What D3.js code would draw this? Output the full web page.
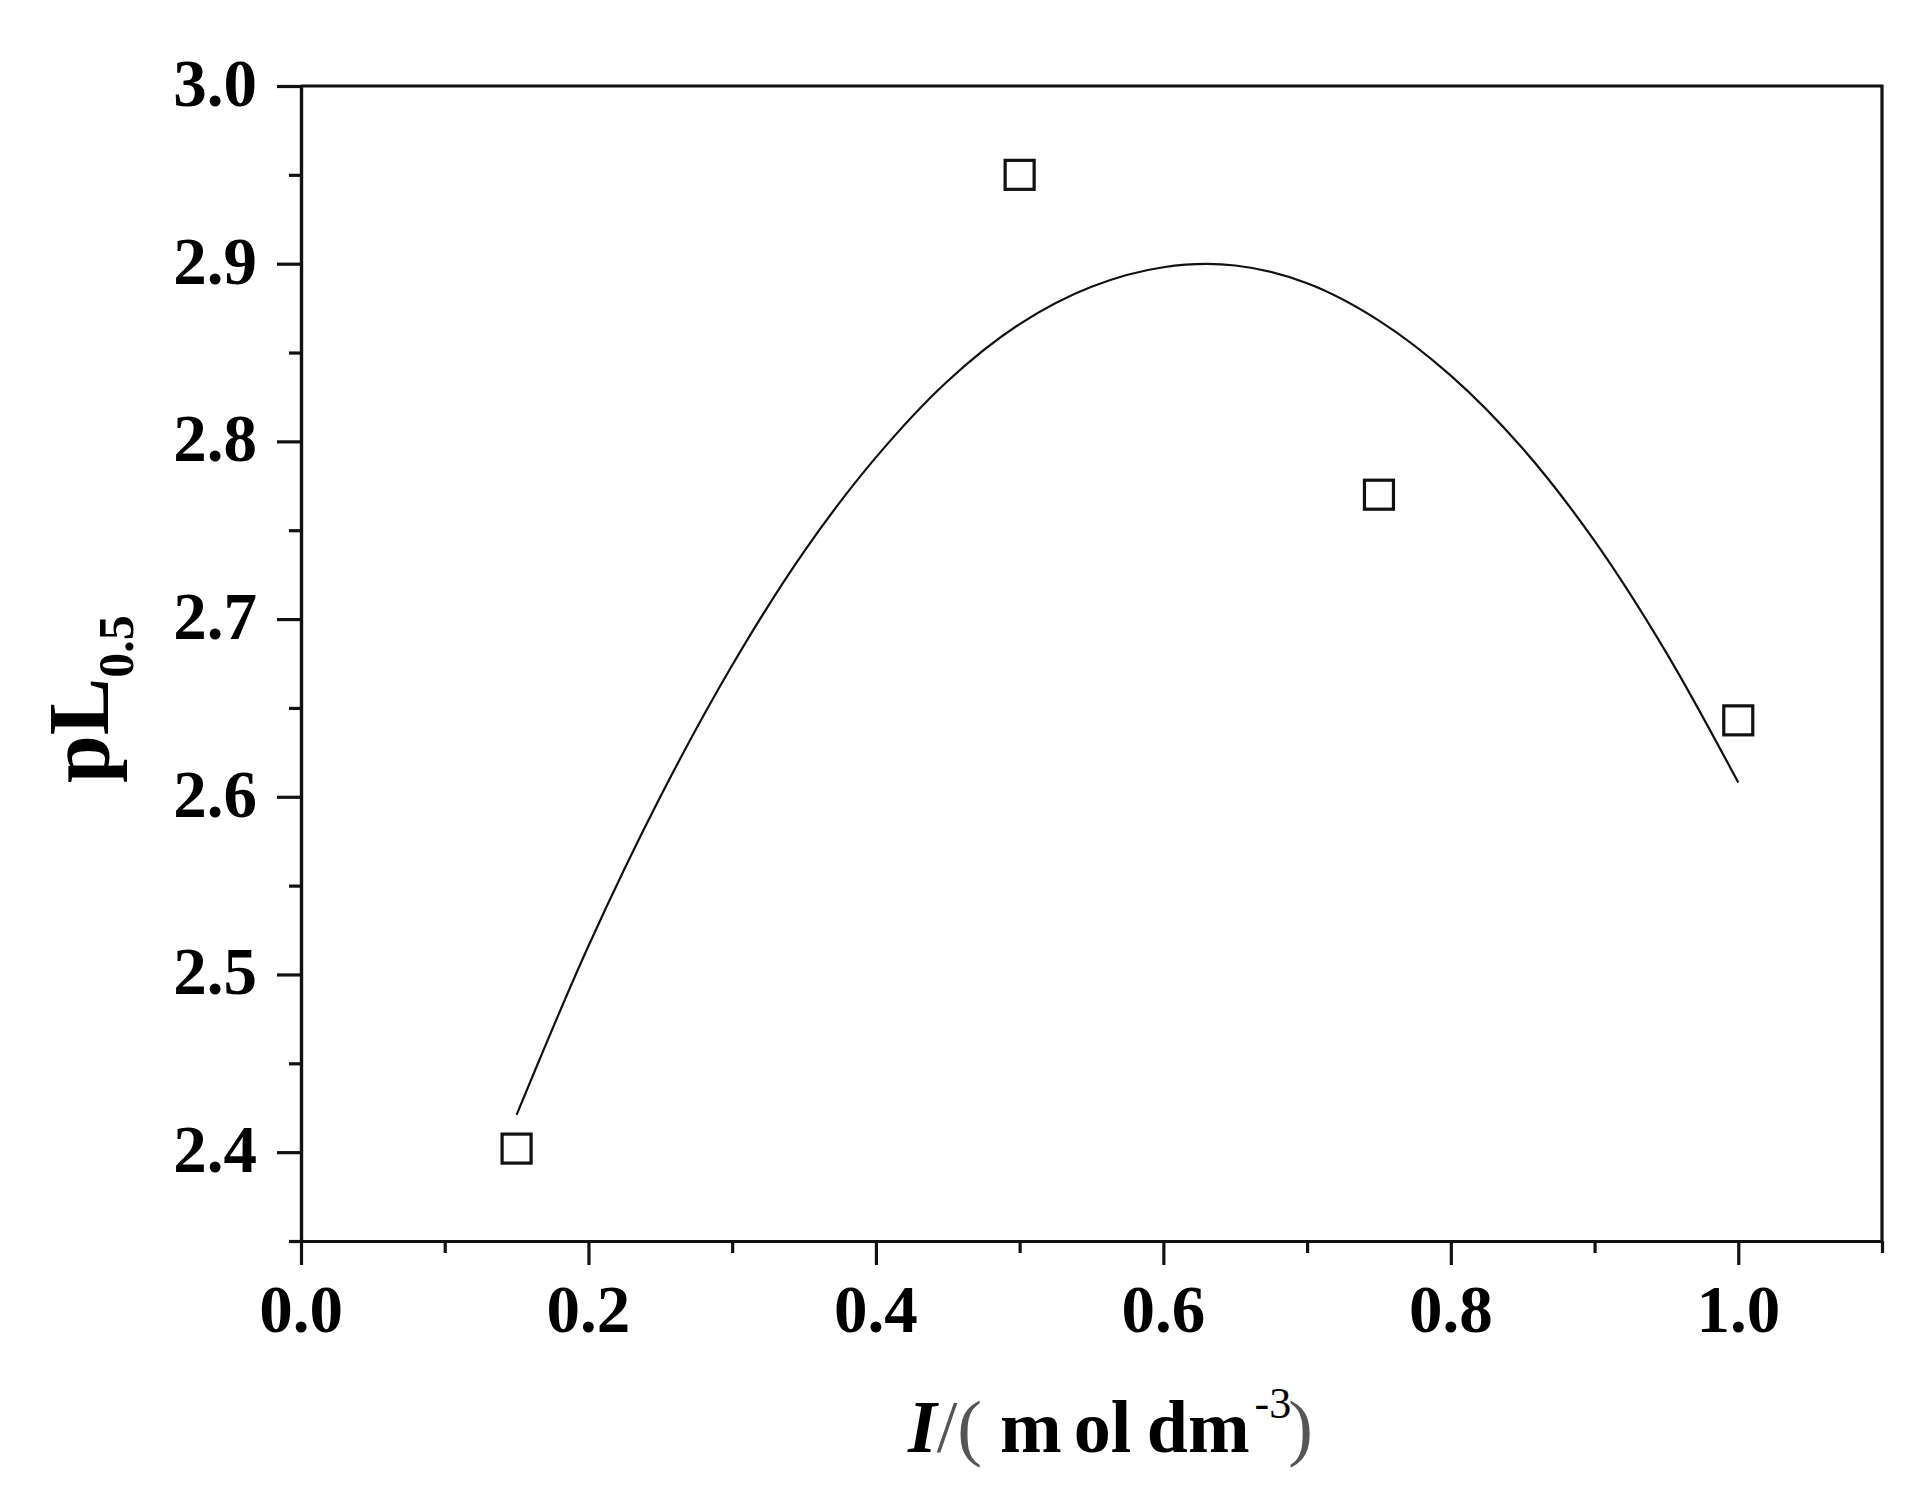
<!DOCTYPE html>
<html>
<head>
<meta charset="utf-8">
<script src="https://cdn.jsdelivr.net/npm/d3@7"></script>
<style>
  html, body { margin: 0; padding: 0; background: #fff; }
  svg { display: block; }
  text { font-family: "Liberation Serif", "Times New Roman", serif; fill: #000; }
</style>
</head>
<body>
<script>
// ---- data ----
const ionicStrength = [0.15, 0.50, 0.75, 1.00];
const pL05 = [2.402, 2.950, 2.770, 2.643];

// fitted curve
const fitX = [0.15, 0.20, 0.25, 0.30, 0.35, 0.40, 0.45, 0.50, 0.55, 0.60, 0.65, 0.70, 0.75, 0.80, 0.85, 0.90, 0.95, 1.00];
const fitY = [2.421, 2.516, 2.600, 2.674, 2.738, 2.791, 2.834, 2.866, 2.887, 2.898, 2.899, 2.889, 2.868, 2.837, 2.796, 2.744, 2.681, 2.608];

const xMajorTicks = [0.0, 0.2, 0.4, 0.6, 0.8, 1.0];
const xMinorTicks = [0.1, 0.3, 0.5, 0.7, 0.9, 1.1];
const yMajorTicks = [2.4, 2.5, 2.6, 2.7, 2.8, 2.9, 3.0];
const yMinorTicks = [2.35, 2.45, 2.55, 2.65, 2.75, 2.85, 2.95];
const xDomain = [0, 1.1];
const yDomain = [2.35, 3.0];

// ---- layout ----
const W = 1925, H = 1502;
const mLeft = 301, mTop = 86, mRight = 1882, mBottom = 1241;

const svg = d3.select("body").append("svg").attr("width", W).attr("height", H);

const x = d3.scaleLinear().domain(xDomain).range([mLeft, mRight]);
const y = d3.scaleLinear().domain(yDomain).range([mBottom, mTop]);

const axisColor = "#111";
const axisW = 3.2;

// frame (top and right lines)
svg.append("path")
  .attr("d", `M${x(xDomain[0])},${y(yDomain[1])}H${x(xDomain[1])}V${y(yDomain[0])}`)
  .attr("fill", "none").attr("stroke", axisColor).attr("stroke-width", axisW);

function styleAxis(g) {
  g.select(".domain").attr("stroke", axisColor).attr("stroke-width", axisW);
  g.selectAll(".tick line").attr("stroke", axisColor).attr("stroke-width", axisW);
  g.selectAll(".tick text").remove();
}

// x axis
svg.append("g").attr("transform", `translate(0,${mBottom})`)
  .call(d3.axisBottom(x).tickValues(xMajorTicks).tickSize(24).tickSizeOuter(0).tickFormat(""))
  .call(styleAxis);
svg.append("g").attr("transform", `translate(0,${mBottom})`)
  .call(d3.axisBottom(x).tickValues(xMinorTicks).tickSize(12).tickSizeOuter(0).tickFormat(""))
  .call(styleAxis);

// y axis
svg.append("g").attr("transform", `translate(${mLeft},0)`)
  .call(d3.axisLeft(y).tickValues(yMajorTicks).tickSize(24).tickSizeOuter(0).tickFormat(""))
  .call(styleAxis);
svg.append("g").attr("transform", `translate(${mLeft},0)`)
  .call(d3.axisLeft(y).tickValues(yMinorTicks).tickSize(12).tickSizeOuter(0).tickFormat(""))
  .call(styleAxis);

// tick labels
const fmt = d3.format(".1f");
svg.append("g").selectAll("text").data(xMajorTicks).join("text")
  .attr("x", d => x(d)).attr("y", mBottom + 91)
  .attr("text-anchor", "middle")
  .attr("font-size", 67).attr("font-weight", "bold")
  .text(d => fmt(d));

svg.append("g").selectAll("text").data(yMajorTicks).join("text")
  .attr("x", mLeft - 44).attr("y", d => y(d) + 20)
  .attr("text-anchor", "end")
  .attr("font-size", 67).attr("font-weight", "bold")
  .text(d => fmt(d));

// fitted curve
const pts = fitX.map((v, i) => [v, fitY[i]]);
svg.append("path")
  .attr("d", d3.line().x(d => x(d[0])).y(d => y(d[1])).curve(d3.curveCatmullRom)(pts))
  .attr("fill", "none").attr("stroke", "#111").attr("stroke-width", 2.2);

// open square markers
const sq = 29;
svg.append("g").selectAll("rect").data(ionicStrength.map((v, i) => [v, pL05[i]])).join("rect")
  .attr("x", d => x(d[0]) - sq / 2).attr("y", d => y(d[1]) - sq / 2)
  .attr("width", sq).attr("height", sq)
  .attr("fill", "#fff").attr("stroke", "#111").attr("stroke-width", 3.2);

// y axis title
const yt = svg.append("text")
  .attr("transform", "translate(108,783) rotate(-90)")
  .attr("font-weight", "bold");
yt.append("tspan").attr("font-size", 86).text("pL");
yt.append("tspan").attr("font-size", 50).attr("dy", 25).text("0.5");

// x axis title
const xt = svg.append("text").attr("x", 908).attr("y", 1452).attr("font-size", 74);
xt.append("tspan").attr("font-weight", "bold").attr("font-style", "italic").text("I");
xt.append("tspan").attr("fill", "#555").text("/(");
xt.append("tspan").attr("font-weight", "bold").attr("dx", 18).text("m");
xt.append("tspan").attr("font-weight", "bold").attr("dx", 12).text("ol");
xt.append("tspan").attr("font-weight", "bold").attr("dx", -3).text(" dm");
xt.append("tspan").attr("font-size", 44).attr("dx", 5).attr("dy", -34).text("-3");
xt.append("tspan").attr("fill", "#555").attr("dx", -3).attr("dy", 34).text(")");
</script>
</body>
</html>
